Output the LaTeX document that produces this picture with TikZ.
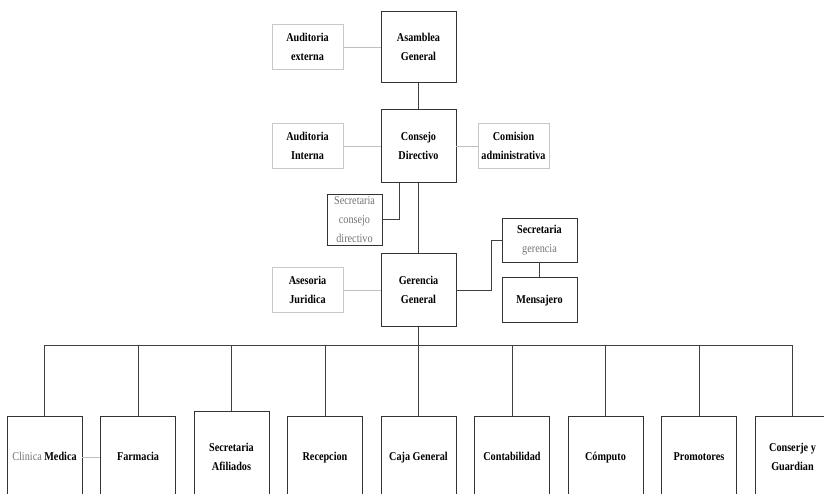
\documentclass[tikz,border=0pt]{standalone}
\usepackage{fontspec}
\setmainfont{Liberation Serif}[FakeStretch=0.85]
\newcommand{\grtext}[1]{{\mdseries\color{black!55}#1}}

\begin{document}
\begin{tikzpicture}
  [
    x=1pt, y=1pt,
    node distance=99pt,
    main node/.style={draw=black!80, line width=0.8pt, minimum width=75pt, minimum height=71pt, align=center, inner sep=2pt, font=\fontsize{12}{19}\selectfont\bfseries},
    side node/.style={main node, draw=black!22, line width=0.6pt, minimum width=71pt, minimum height=45pt},
    low node/.style={main node, minimum height=82pt},
    one line/.style={text height=8.5pt, text depth=2.5pt},
    link/.style={draw=black!75, line width=0.8pt},
    faint link/.style={draw=black!25, line width=0.6pt}
    ]

  \useasboundingbox (0,0) rectangle (824,-493);
  \clip (0,0) rectangle (824,-493);

  \node [main node] (1) at (418.5,-47) {Asamblea\\General};
  \node [side node] (2) [left of=1, node distance=111pt] {Auditoria\\externa};
  \node [main node, minimum height=73pt] (3) [below of=1] {Consejo\\Directivo};
  \node [side node] (4) [left of=3, node distance=111pt] {Auditoria\\Interna};
  \node [side node] (5) [right of=3, node distance=95pt] {Comision\\administrativa};
  \node [main node, minimum height=73pt] (6) [below of=3, node distance=144pt] {Gerencia\\General};
  \node [main node, minimum width=55pt, minimum height=51pt] (7) at (354.5,-219.5) {\grtext{Secretaria}\\\grtext{consejo}\\\grtext{directivo}};
  \node [side node] (8) [left of=6, node distance=111pt] {Asesoria\\Juridica};
  \node [main node, minimum height=44pt] (9) at (539.5,-240) {Secretaria\\\grtext{gerencia}};
  \node [main node, one line, minimum height=45pt] (10) [below of=9, node distance=60pt] {Mensajero};

  \node [low node, one line] (11) at (44.5,-457) {\grtext{Clinica} Medica};
  \node [low node, one line] (12) [right of=11, node distance=93.5pt] {Farmacia};
  \node [low node, minimum height=92pt] (13) [right of=12, node distance=93.5pt] {Secretaria\\Afiliados};
  \node [low node, one line] (14) [right of=13, node distance=93.5pt] {Recepcion};
  \node [low node, one line] (15) [right of=14, node distance=93.5pt] {Caja General};
  \node [low node, one line] (16) [right of=15, node distance=93.5pt] {Contabilidad};
  \node [low node, one line] (17) [right of=16, node distance=93.5pt] {Cómputo};
  \node [low node, one line] (18) [right of=17, node distance=93.5pt] {Promotores};
  \node [low node] (19) [right of=18, node distance=93.5pt] {Conserje y\\Guardian};

  \coordinate (bus) at (0,-345);

  \draw [link] (1) -- (3);
  \draw [link] (3) -- (6);
  \draw [link] (7.east) -| (3.243);
  \draw [link] (6.east) -- ++(35,0) |- (9.west);
  \draw [link] (9) -- (10);
  \draw [link] (6.south) -- (6 |- bus);
  \draw [link] (11.north) |- (19 |- bus) -- (19.north);
  \foreach \n in {12,...,18}
    \draw [link] (\n.north) -- (\n |- bus);

  \draw [faint link] (2) -- (1);
  \draw [faint link] (4) -- (3);
  \draw [faint link] (3) -- (5);
  \draw [faint link] (8) -- (6);
  \draw [faint link] (11) -- (12);
\end{tikzpicture}
\end{document}
